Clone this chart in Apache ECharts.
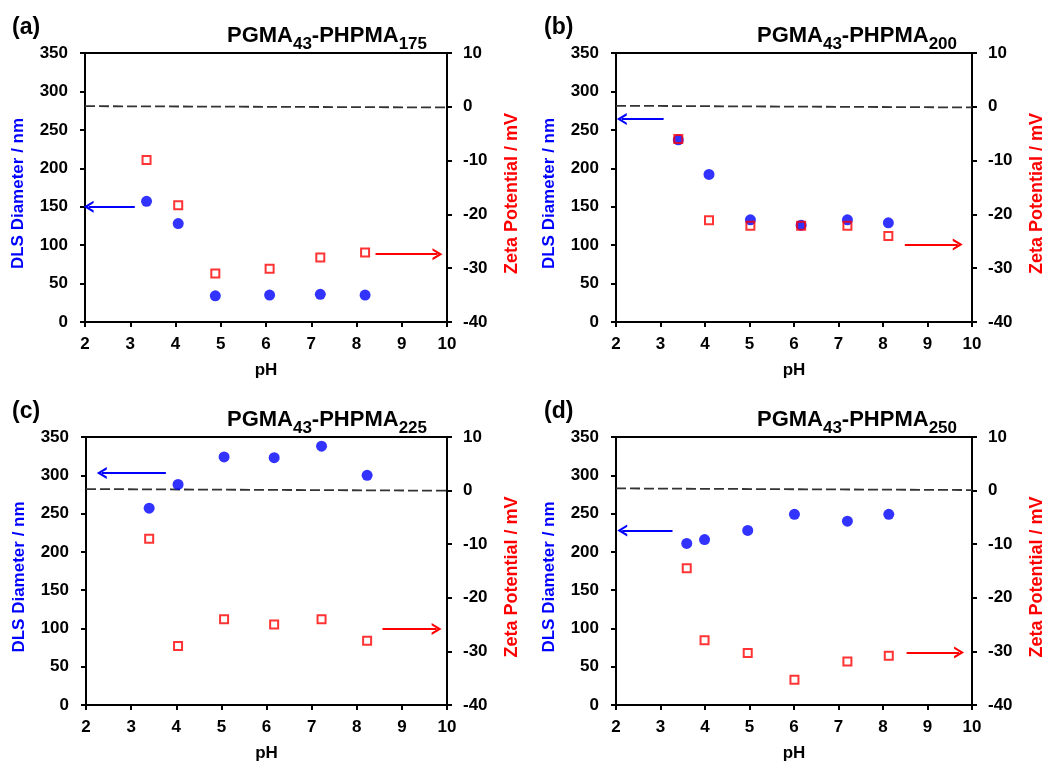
<!DOCTYPE html>
<html>
<head>
<meta charset="utf-8">
<script src="https://cdn.jsdelivr.net/npm/echarts@6/dist/echarts.min.js"></script>
<style>
html,body{margin:0;padding:0;background:#fff;}
#main{width:1049px;height:763px;}
</style>
</head>
<body>
<div id="main"></div>
<script>
// ---- data ----
const panelLabels = ['(a)', '(b)', '(c)', '(d)'];
const dpValues = ['175', '200', '225', '250'];
const xTicks = {min: 2, max: 10, interval: 1};
const dlsTicks = {min: 0, max: 350, interval: 50};
const zetaTicks = {min: -40, max: 10, interval: 10};

const phA = [3.36, 4.06, 4.88, 6.08, 7.20, 8.19];
const dlsA = [157, 128, 34, 35, 36, 35];
const zetaA = [-9.9, -18.3, -31.0, -30.1, -28.0, -27.1];

const phB = [3.40, 4.09, 5.02, 6.16, 7.20, 8.12];
const dlsB = [237, 192, 133, 126, 133, 129];
const zetaB = [-6.0, -21.1, -22.1, -22.1, -22.1, -24.0];

const phC = [3.40, 4.04, 5.06, 6.17, 7.22, 8.23];
const dlsC = [257, 288, 324, 323, 338, 300];
const zetaC = [-9.0, -29.0, -24.0, -25.0, -24.0, -28.0];

const phD = [3.59, 3.99, 4.96, 6.01, 7.20, 8.13];
const dlsD = [211, 216, 228, 249, 240, 249];
const zetaD = [-14.5, -27.9, -30.3, -35.3, -31.9, -30.8];

// zero reference (zeta axis) and annotation arrows, in data coordinates
const zeroLineA = [[2, 0.12], [10, -0.12]];
const zeroLineB = [[2, 0.19], [10, -0.12]];
const zeroLineC = [[2, 0.29], [10, -0.02]];
const zeroLineD = [[2, 0.41], [10, 0.10]];
const blueArrowA = [[3.10, 150], [2.08, 150]];
const redArrowA = [[8.42, -27.4], [9.79, -27.4]];
const blueArrowB = [[3.07, 264], [2.13, 264]];
const redArrowB = [[8.49, -25.6], [9.68, -25.6]];
const blueArrowC = [[3.77, 303], [2.35, 303]];
const redArrowC = [[8.57, -25.8], [9.77, -25.8]];
const blueArrowD = [[3.27, 228], [2.14, 228]];
const redArrowD = [[8.53, -30.2], [9.71, -30.2]];

const panels = [
  {ph: phA, dls: dlsA, zeta: zetaA, zero: zeroLineA, bArr: blueArrowA, rArr: redArrowA},
  {ph: phB, dls: dlsB, zeta: zetaB, zero: zeroLineB, bArr: blueArrowB, rArr: redArrowB},
  {ph: phC, dls: dlsC, zeta: zetaC, zero: zeroLineC, bArr: blueArrowC, rArr: redArrowC},
  {ph: phD, dls: dlsD, zeta: zetaD, zero: zeroLineD, bArr: blueArrowD, rArr: redArrowD}
];

// ---- layout / style ----
const FONT = '"Liberation Sans", Arial, Helvetica, sans-serif';
const BLUE = '#0000ff';
const RED = '#ff0000';
const grids = [
  {left: 85, top: 53, width: 362, height: 269},
  {left: 616, top: 53, width: 356, height: 269},
  {left: 86, top: 437, width: 361, height: 268},
  {left: 616, top: 437, width: 356, height: 268}
];
const titlePos = [
  {right: 622, top: 25}, {right: 92, top: 25},
  {right: 622, top: 409}, {right: 92, top: 409}
];
const labelPos = [
  {left: 12, top: 16}, {left: 544, top: 16},
  {left: 12, top: 400}, {left: 544, top: 400}
];

const chevron = 'path://M0,10 L5,0 L10,10 L8,10 L5,4 L2,10 Z';

const axisLine = {show: true, onZero: false, lineStyle: {color: '#000', width: 2}};
const axisTick = {show: true, inside: false, length: 5, lineStyle: {color: '#000', width: 2}};
const tickLabel = {color: '#000', fontSize: 17, fontWeight: 'bold', fontFamily: FONT};

const option = {
  animation: false,
  backgroundColor: '#fff',
  title: [],
  grid: [],
  xAxis: [],
  yAxis: [],
  series: []
};

panels.forEach((p, i) => {
  option.grid.push(Object.assign({show: true, borderColor: '#000', borderWidth: 2, containLabel: false}, grids[i]));
  option.title.push(Object.assign({
    text: '{m|PGMA}{s|43}{m|-PHPMA}{s|' + dpValues[i] + '}',
    padding: 0,
    textStyle: {
      rich: {
        m: {fontSize: 22, fontWeight: 'bold', fontFamily: FONT, color: '#000', lineHeight: 26, verticalAlign: 'top'},
        s: {fontSize: 17, fontWeight: 'bold', fontFamily: FONT, color: '#000', lineHeight: 17, padding: [11, 0, 0, 0], verticalAlign: 'top'}
      }
    }
  }, titlePos[i]));
  option.title.push(Object.assign({
    text: panelLabels[i],
    padding: 0,
    textStyle: {fontSize: 23, fontWeight: 'bold', fontFamily: FONT, color: '#000'}
  }, labelPos[i]));

  option.xAxis.push({
    type: 'value', gridIndex: i,
    min: xTicks.min, max: xTicks.max, interval: xTicks.interval,
    axisLine, axisTick,
    axisLabel: Object.assign({margin: 14}, tickLabel),
    splitLine: {show: false},
    name: 'pH', nameLocation: 'middle', nameGap: 40,
    nameTextStyle: {color: '#000', fontSize: 17, fontWeight: 'bold', fontFamily: FONT}
  });
  option.yAxis.push({
    type: 'value', gridIndex: i, position: 'left',
    min: dlsTicks.min, max: dlsTicks.max, interval: dlsTicks.interval,
    axisLine, axisTick,
    axisLabel: Object.assign({margin: 17}, tickLabel),
    splitLine: {show: false},
    name: 'DLS Diameter / nm', nameLocation: 'middle', nameGap: 58, nameRotate: 90,
    nameTextStyle: {color: BLUE, fontSize: 17, fontWeight: 'bold', fontFamily: FONT, padding: [0, 12, 0, 0]}
  });
  option.yAxis.push({
    type: 'value', gridIndex: i, position: 'right',
    min: zetaTicks.min, max: zetaTicks.max, interval: zetaTicks.interval,
    axisLine, axisTick,
    axisLabel: Object.assign({margin: 16}, tickLabel),
    splitLine: {show: false},
    name: 'Zeta Potential / mV', nameLocation: 'middle', nameGap: 56, nameRotate: 90,
    nameTextStyle: {color: RED, fontSize: 18, fontWeight: 'bold', fontFamily: FONT, padding: [0, 12, 0, 0]}
  });

  const xi = i, yl = 2 * i, yr = 2 * i + 1;

  option.series.push({
    type: 'line', xAxisIndex: xi, yAxisIndex: yr,
    data: p.zero, symbol: 'none', silent: true, z: 1,
    lineStyle: {color: '#333', width: 1.8, type: [10, 4]}
  });
  option.series.push({
    type: 'scatter', xAxisIndex: xi, yAxisIndex: yl,
    data: p.ph.map((x, k) => [x, p.dls[k]]),
    symbol: 'circle', symbolSize: 11, z: 3,
    itemStyle: {color: BLUE},
    markLine: {
      silent: true, animation: false,
      symbol: ['none', chevron], symbolSize: [12, 10],
      label: {show: false},
      lineStyle: {color: BLUE, width: 2, type: 'solid'},
      data: [[{coord: p.bArr[0]}, {coord: p.bArr[1]}]]
    }
  });
  option.series.push({
    type: 'scatter', xAxisIndex: xi, yAxisIndex: yr,
    data: p.ph.map((x, k) => [x, p.zeta[k]]),
    symbol: 'rect', symbolSize: 8, z: 4,
    itemStyle: {color: 'rgba(255,255,255,0)', borderColor: RED, borderWidth: 2},
    markLine: {
      silent: true, animation: false,
      symbol: ['none', chevron], symbolSize: [12, 10],
      label: {show: false},
      lineStyle: {color: RED, width: 2, type: 'solid'},
      data: [[{coord: p.rArr[0]}, {coord: p.rArr[1]}]]
    }
  });
});

const chart = echarts.init(document.getElementById('main'), null, {renderer: 'canvas'});
chart.setOption(option);
</script>
</body>
</html>
